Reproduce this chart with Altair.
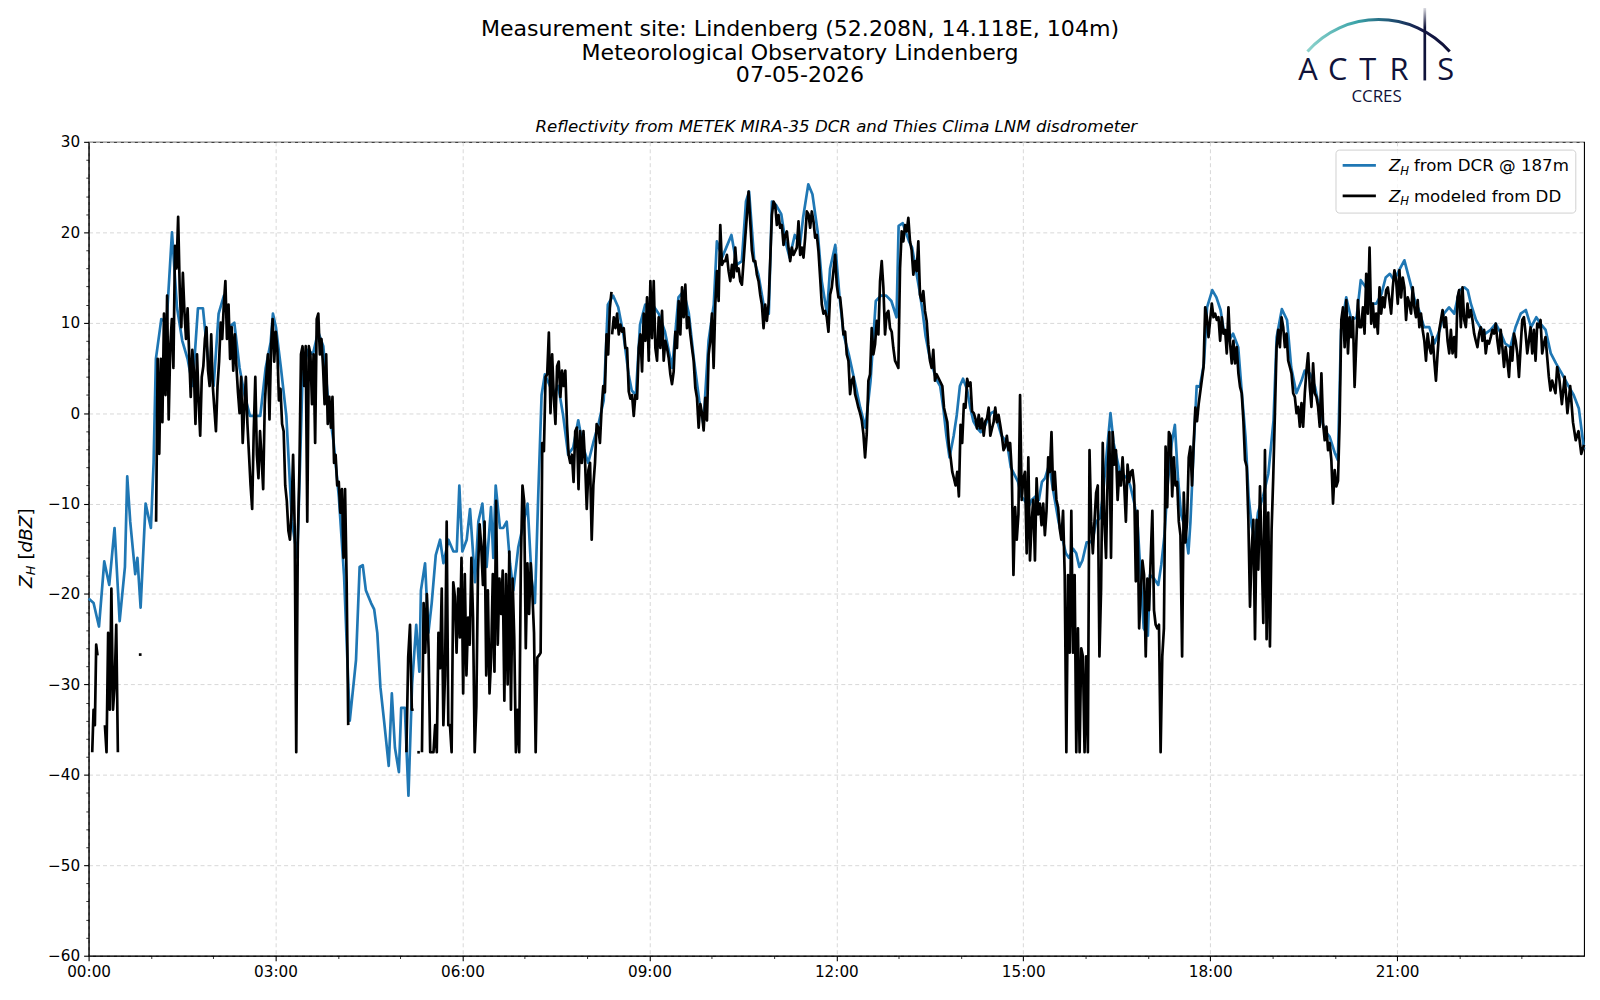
import altair as alt
import numpy as np
import pandas as pd

# ---------------- data (minutes since 00:00, reflectivity dBZ) ----------------
blue_t = [0, 4.8, 10, 15.1, 19.9, 25, 29.9, 35, 37.2, 40.1, 44.9, 47, 50.1, 54.9, 60, 62.6, 64.8, 70, 75.1, 80.3,
          85.1, 90.2, 95.3, 100.2, 105.3, 110.1, 115.2, 120.4, 125.2, 130.3, 135.1, 140.3, 145.4, 150.2, 155.4,
          160.2, 165.3, 170.5, 175.3, 177.5, 180.4, 185.2, 190.4, 195.8, 201, 206, 211, 216, 221, 226,
          231, 236, 241, 246, 251.5,
          256, 257.5, 261, 264, 267, 272, 275, 278, 281, 284.5, 289, 292, 295, 298.8, 301,
          304.5, 308, 311.5, 315.5, 318.5, 320, 324, 327.2, 330.4, 334.3, 338.5, 341.7, 346.5, 351.3, 354.5,
          357, 359.9, 364.1, 367.3, 372.1, 375.3, 379.2, 383.3, 387.5, 389.7, 392, 396.1, 399.3, 402.6, 405.8,
          409, 413.8, 418.6, 422.7, 426.6, 429.8, 433, 436.2, 439.4, 444.2, 447.4, 452.2, 457, 461.8, 466.6,
          471.5, 476.3, 481.1, 485.9,
          491, 496, 500, 505, 510, 515, 520, 523, 527, 531, 536, 543, 549, 555, 562, 568, 573, 578, 583, 588,
          592, 597, 602, 605, 610, 614, 619, 624, 629, 633, 636, 641, 645, 651, 655, 658, 662, 667, 671, 675,
          680, 685, 688, 693, 697, 702, 706, 711, 714, 719, 723, 727, 732, 739, 743, 748, 753, 758, 763, 768,
          773, 778,
          780, 784, 787, 790, 793, 797, 800, 803, 806, 810, 813, 816, 820, 823, 826, 829, 833, 836, 839, 842,
          846, 849, 852, 856, 859, 862, 865, 869, 872, 875, 879, 882, 885, 888, 892, 895, 898, 901, 905, 908,
          912, 915, 918, 921, 925, 928, 931, 934, 938, 941, 944, 948, 951, 954, 957, 961, 964, 967, 970, 974,
          977, 980, 984, 987, 990, 993, 997, 1000, 1003, 1007, 1010, 1013, 1016, 1020, 1022, 1026, 1030, 1033,
          1036, 1039, 1043, 1046, 1049, 1052, 1056, 1059, 1061, 1064, 1067,
          1070, 1074, 1077, 1082, 1086, 1090, 1093, 1098, 1102, 1107, 1110, 1114, 1117, 1120, 1123, 1126, 1131,
          1136, 1141, 1144, 1149, 1154, 1158, 1163, 1168, 1171, 1176, 1181, 1186, 1190, 1195, 1200, 1203, 1206,
          1211, 1216, 1221, 1225, 1230, 1235, 1240, 1245, 1249, 1253, 1257, 1262, 1267, 1272, 1277, 1281, 1286,
          1291, 1296, 1301, 1305, 1310, 1315, 1320, 1325, 1328, 1331, 1336, 1340, 1345, 1350, 1355, 1360, 1364,
          1369, 1374, 1379, 1384, 1389, 1394, 1398, 1403, 1408, 1413, 1418, 1425, 1430, 1435, 1440]

blue_v = [-20.5, -21, -23.6, -16.4, -19, -12.7, -23, -17, -7, -12, -17.8, -16, -21.5, -10, -12.7, -5.5, 6, 10.4, 10, 20,
          11.7, 8, 6, 3, 11.6, 11.6, 5.7, 3, 11, 13, 9.5, 10, 5, 2, -0.3,
          -0.3, -0.3, 5, 7.8, 11, 9.5, 5, -0.3, -12, -16, 4, 7, 6.5, 9, 7.4,
          1, -3.3, -9.3, -18, -34,
          -29, -27.3, -17, -16.8, -19.6, -21, -21.7, -24.3, -30.3, -34, -39, -31, -37, -39.7, -32.6,
          -32.6, -42.3, -30, -23.4, -28.6, -19.6, -16.6, -24.3, -21, -15.7, -14, -16.6, -14, -15.3, -15.3,
          -8, -15.3, -14, -10.6, -18.7, -12, -10, -17, -10.4, -16, -8, -12.7, -12.7, -12, -16.6,
          -19.6, -14.8, -12.3, -10, -18.3, -21, -9, 2, 4.3, 3, 2, 3, -0.3, -4.6, -3.8,
          -0.8, -3.8, -5.5, -3.3,
          -1.2, 1.4, 12, 13, 11.7, 8.7, 4.3, 2.5, 2, 9.8, 12, 12, 11, 9, 5, 12.8, 13.5, 11, 5.8, 1.4,
          -1.2, 8, 12, 19, 17.2, 18.3, 19.7, 16.4, 16.8, 23.4, 24.5, 16.8, 15.3, 11.3, 11, 23.4, 23, 22, 19, 17.2,
          19.7, 18.6, 21.6, 25.3, 24.2, 20.1, 14.6, 11, 16, 18.6, 13, 8.7, 6.5, 2.8, 0.6, -1.6, 3.6, 12.4, 13, 13,
          12.4, 10.6,
          20.7, 21, 20, 19, 18.3, 15.6, 13.6, 11.3, 8.5, 6.1, 5, 3.8, 3, 0.6, -2.5, -4.9, -2.5, -0.2, 3, 3.8,
          2.6, 0.6, -0.9, -1.7, -2.1, -1.7, -0.9, 0, 0.2, -0.9, -2.5, -2.9, -3.7, -6, -6.9, -7.6, -9.2, -9.6, -10.4, -9.6,
          -9.2, -9.6, -7.6, -7.2, -5.7, -8, -10, -12, -14, -15.5, -16, -15, -15.5, -17, -16.3, -14.3, -14.3, -14, -12, -11.6,
          -8.8, -4.9, 0, -3.3, -4.9, -6.5, -6.9, -7.2, -8, -10, -12, -17.9, -23.8, -24.6, -17.9, -18.3, -19, -16.7,
          -13.5, -8, -3.3, -1.3, -7.2, -11.2, -12.8, -15.5, -12, -4.1, 3,
          2.9, 5.5, 11.7, 13.6, 12.8, 11.4, 9.2, 8, 8.8, 7.3, 2.9, -2.6, -9.2, -12.5, -14, -11, -9.2,
          -6.7, -0.8, 8.4, 11.5, 10.3, 5.1, 2.2, 3.6, 4.7, 4.4, 2.9, 0, -1.9, -2.6, -4.4, -5.2, 9.2,
          12.8, 10.3, 10.6, 14.7, 13.9, 12.1, 12.1, 13.2, 15, 15.4, 14.7, 15.8, 16.9, 14.7, 12.5, 11.4, 9.5,
          9.5, 7.7, 9.2, 11, 11.7, 11, 13.6, 13.9, 13.6, 12.1, 10.3, 9.5, 8.8, 9.2, 9.9, 8.8, 7.7,
          7.3, 9.5, 11, 11.4, 9.5, 10.6, 9.9, 9.2, 6.6, 5.5, 4.5, 3, 2, 0.5, -4]

# black series: segments of regularly sampled values, [start minute, end minute]
black_seg_bounds = [(3.5, 8.6), (15.7, 28.2), (48.4, 51.0), (65.0, 250.0), (306.0, 313.0), (316.5, 319.0),
                    (321.0, 503.5), (504.1, 816.6), (822.1, 1068.9), (1073.6, 1414.1), (1416.0, 1440.0)]
black_seg_ids = [1, 2, 3, 4, 5, 6, 7, 8, 8, 8, 8]

black_v1 = [-37.5, -32.8, -34.5, -25.6, -26.8]
black_v2 = [-34.5, -37.5, -24.3, -32.8, -19.4, -32.8, -30, -23.4, -37.5]
black_v3 = [-26.7, -26.7]
black_v4 = [-12, 6, -4.5, 6, -1, 11, 2, 13, -0.7, 7.4, 10.4, 5, 18.5, 16, 21.7, 13.8, 9.5, 15.5, 11.2, 8.2,
            11.6, 6.5, 1.8, 7, 4.7, -1.2, 6.5, 1.4, -2.5, 4, 5.2, 8.2, 9.5, 4.7, 3, 8.7, 3, 0.5, -2, 3,
            5.7, 10, 8.2, 12, 14.6, 8.2, 12, 6, 9.5, 4.7, 8.7, 5.2, 2.3, 0, 4, -3.3, 0.5, 4, -1.2, -4.6,
            -8, -10.6, -2, 4, -4.6, -7.2, -2, -5, -8.4, 1, 4, 6.5, -0.7, 7.4, 10.4, 5.7, 9, 7, 1.4, 2.7,
            -1.2, -2, -8, -9.7, -13, -14, -11, -4.6, -12.7, -37.5, -14, -6.3, 6.5, 7.4, 3, 7.4, -12, 7.4, 6.5, 1,
            6.5, -3.3, 10.4, 11, 6.5, 8.2, 5.2, 1, 6.5, -1.2, 1.8, -1.6, 1.8, -5.5, -4.6, -8, -7.6, -11, -8.4, -16,
            -8.4, -18.7, -34.5]
black_v5 = [-37.5, -27, -23.4, -32.8, -32.8]
black_v6 = [-37.5, -37.5]
black_v7 = [-37.5, -21, -26.5, -20, -26, -37.5, -37.5, -37.5, -34.5, -37.5, -24.3, -28.2, -19.4, -34.5, -29, -12,
            -34.5, -34.5, -37.5, -18.7, -20.3, -26.5, -19.4, -24.8, -16, -31, -17.8, -29, -22.6, -25.6, -16, -22.6,
            -37.5, -32.4, -17.4, -12.3, -14.8, -19, -12, -29, -19.6, -31, -27, -17.8, -28.6, -9.7, -25.6, -18.3,
            -22.2, -17.4, -31.8, -17.8, -30, -15.3, -32.8, -18.3, -24.8, -37.5, -32.8, -37.5, -16.6, -8, -9.7, -26,
            -16.6, -22.2, -16.6, -20, -24.3, -37.5, -27, -26.8, -26.5, -3.3, -4.2, 4, 4.3, 8.9, 0, 6.5, 1.8, -1.2,
            5.2, 5.7, 1.8, 4.7, 3, 4.7, -1.2, -4.6, -5.5, -4.6, -7.6, -2, -1.6, -8.4, -2, -5.5, -2, -5.5, -10.6,
            -6.3, -5.5, -14, -8, -5.5, -1.2, -1.6, -3.3, 0.5, 3, 2.3, 8.7, 6.5, 11.6, 13.4]
black_v8 = [8.7, 10.6, 9.4, 11, 8.7, 9.8, 9, 9.4, 7.2, 7.2, 2.4, 1.6, 2, -0.3, 2, 1.6, 7.2, 8.7, 4.6, 11,
            8, 12.8, 5.8, 14.6, 8.3, 14.6, 7.2, 5.8, 10.6, 7.2, 11.3, 5.8, 8, 7.2, 6.1, 4.3, 3.2, 4.6, 9, 7.2,
            12.4, 8.7, 13.9, 10.6, 14.2, 9.4, 10.6, 8.7, 7.2, 5.8, 2.8, 1.7, -1.6, 1, 0, -1.9, 1.7, -0.8, 6.5, 8,
            11, 5, 12, 15.7, 12.4, 20.8, 16.4, 16.8, 16.8, 17.5, 15.7, 14.6, 16.4, 15, 18.3, 15.7, 16, 14.6, 14.2, 16.8,
            19.4, 21.9, 24.5, 21.2, 18, 16.8, 16.8, 15.3, 14.6, 13.1, 12, 9.4, 12, 10.2, 12, 16.8, 21.9, 23.4, 23, 20.8,
            21.9, 20.5, 20.8, 18.6, 19.7, 20.1, 18.3, 16.8, 18.3, 17.5, 17.9, 18.3, 21.2, 17.5, 18.3, 17.2, 19.4, 22.3,
            22, 20.5, 22.3, 21.2, 19.4, 19.7, 17.9, 15, 12, 11, 11.3, 10.6, 9, 13.1, 13.9, 15.7, 17.5, 14.2, 12.8, 12.8,
            11, 8.7, 9, 6.5, 5.8, 2.1, 3.6, 4, 2.1, 1.4, 0.6, 0, -0.8, -2.3, -4.9, -2.3, 3.6, 4.3, 9.4, 6.5,
            7.6, 10.2, 8.7, 14.6, 16.8, 13.9, 8.7, 11, 11.3, 9.4, 9, 7.2, 5.8, 5.4, 5, 16, 20.1, 19, 20.8, 20.1,
            21.6, 19, 18, 15.3, 16.8, 15.7, 19, 13.1, 12.4, 13.5, 11.3, 10.2, 7.6, 5.8, 5, 7, 3.6, 4.3]
black_v9 = [3, 0.6, -0.2, -1, -3.7, -4.9, -6.5, -7.2, -8, -6.5, -9.2, -1.3, -3.3, 1, 0.6, 3.8, 3, 3.4, 0.2, 0,
            -0.6, -1.7, -0.2, -1.7, -0.6, -2.5, -0.9, -0.6, 0.6, -2.5, -1.7, -1, 0.6, -1, -0.2, -1.3, -2.5, -4.1, -3.7,
            -2.5, -4.1, -3.3, -6.5, -17.9, -10.4, -14, -11.2, 2, -9.6, -7.2, -6.5, -15.5, -4.9, -16.3, -12, -9.6, -16.3,
            -7.2, -11.2, -10, -12.4, -10, -13.5, -10.8, -4.9, -6.5, -2.1, -8.5, -6.5, -9.6, -10.4, -12.8, -14, -10.8,
            -17.9, -37.5, -17.9, -26.5, -10.8, -26.5, -17.9, -37.5, -23.8, -37.5, -26, -26.9, -37.5, -26.9, -37.5, -4.1,
            -12, -15.5, -12, -8.8, -8, -26.9, -19.4, -3.3, -12, -16, -6.5, -2.1, -16, -2.1, -5.7, -4.1, -9.6, -6.5, -8,
            -4.9, -8, -12, -5.7, -7.6, -6.5, -6.3, -8, -18.6, -10.8, -23.8, -19.8, -16.3, -17.9, -26.9, -18.3, -21.8,
            -16, -10.8, -21.8, -23.4, -23.8, -23.4, -37.5, -26.9, -23.8, -3.7, -10.4, -2.1, -2.5, -9.2, -4.9, -8, -7.6,
            -12, -13.5, -26.9, -8.8, -14.3, -12, -4.9, -3.7, -8, -3.3, 0.6, -0.9, 1]
black_v10 = [5.1, 11.7, 10.6, 8.4, 10.3, 12.1, 10.6, 11, 10.3, 10.6, 8, 10.6, 8.8, 9.2, 6.6, 11.7, 7.7, 5.5, 8, 5.5,
             7.3, 4.4, 2.9, 2.2, -0.8, -5.2, -5.9, -11.8, -21.4, -15.1, -11.8, -25, -11.8, -17.3, -8.1, -15.1, -23.2,
             -4.1, -25, -11, -25.8, -12.9, -7, 0, 7.3, 9.2, 7.3, 10.6, 9.5, 7.3, 8.8, 5.8, 5.1, 4.4, 2.2, 1.8, 0, 0.7,
             -1.5, 1.1, -1.5, 2.2, 4.7, 6.6, 2.9, 0.7, 5.5, 2.2, 1.8, 0.7, -1.5, 4.4, -1.1, -3, -1.5, -4.1, -3.3, -5.2,
             -10, -6.3, -8.1, -7.5, -0.8, 10.3, 11.7, 7.3, 12.5, 6.6, 10.6, 8.4, 10.6, 2.9, 7.7, 12.5, 9.5, 9.5, 11.7,
             8.8, 15.4, 11, 18.3, 9.9, 12.1, 9.5, 11, 8.8, 13.9, 11, 12.8, 11.7, 13.6, 13.9, 12.5, 11, 13.9, 15.8, 14.7,
             12.1, 15.8, 12.8, 15, 13.9, 10.3, 12.8, 12.1, 11, 13.9, 11.7, 10.6, 12.5, 9.5, 11, 9.2, 8, 5.8, 8.8, 7.3,
             6.6, 8.4, 5.8, 3.6, 6.6, 9.2, 10.3, 11.4, 9.5, 10.6, 8, 6.6, 9.2, 6.6, 8.4, 6.2, 12.8, 13.6, 9.5, 13.9,
             10.3, 9.5, 12.1, 10.6, 11.4, 10.3, 8.8, 8, 7.3, 8.8, 9.5, 8, 9.2, 6.6, 8, 7.7, 8.4, 9.2, 8.8, 9.9, 8, 6.6,
             9.2, 7.3, 5.1, 7.3, 5.8, 4, 7.3, 5.8, 8.8, 8, 6.6, 4, 7.3, 10.3, 10.6, 8.8, 6.6, 8, 9.5, 6.6, 9.2, 5.8,
             9.9, 9.5, 10.3, 6.6, 7.7, 8.4, 6.2, 4, 2.5, 3.6, 2.9, 2.2, 5.1]
black_v11 = [4, 1, 4, 0, 3, -1, -3, -2, -4.5, -3.5]

black_segments = [black_v1, black_v2, black_v3, black_v4, black_v5, black_v6, black_v7,
                  black_v8, black_v9, black_v10, black_v11]

major_x = [0, 180, 360, 540, 720, 900, 1080, 1260]
minor_x = [60, 120, 240, 300, 420, 480, 600, 660, 780, 840, 960, 1020, 1140, 1200, 1320, 1380]
major_y = [-60, -50, -40, -30, -20, -10, 0, 10, 20, 30]
minor_y = [v for v in range(-58, 30, 2) if v % 10 != 0]

title_lines = ["Measurement site: Lindenberg (52.208N, 14.118E, 104m)",
               "Meteorological Observatory Lindenberg", "07-05-2026"]
subtitle = "Reflectivity from METEK MIRA-35 DCR and Thies Clima LNM disdrometer"
legend_labels = ["from DCR @ 187m", "modeled from DD"]

# ---------------- frames ----------------
blue_df = pd.DataFrame({"minute": blue_t, "value": blue_v})
rows = []
for (t0, t1), sid, vals in zip(black_seg_bounds, black_seg_ids, black_segments):
    ts = np.linspace(t0, t1, len(vals))
    for t, v in zip(ts, vals):
        rows.append({"minute": float(t), "value": v, "seg": sid})
black_df = pd.DataFrame(rows)
one = pd.DataFrame({"k": [0]})

W, H = 1503, 818
FONT = "DejaVu Sans"
NAVY = "#10133a"
LW = 2.7

xscale = alt.Scale(domain=[0, 1440], nice=False, zero=False)
yscale = alt.Scale(domain=[-60, 30], nice=False, zero=False)

x_axis = alt.Axis(values=major_x, title="", grid=True, labelFlush=False, labelOverlap=False,
                  labelExpr="(datum.value < 600 ? '0' : '') + floor(datum.value / 60) + ':00'",
                  tickSize=5, labelPadding=4, orient="bottom")
y_axis = alt.Axis(values=major_y, title="", grid=True, labelFlush=False, labelOverlap=False,
                  labelExpr="datum.value < 0 ? '\u2212' + abs(datum.value) : '' + datum.value",
                  tickSize=5, labelPadding=4, orient="left")

blue_line = alt.Chart(blue_df).mark_line(color="#1f77b4", strokeWidth=LW, strokeJoin="round").encode(
    x=alt.X("minute:Q", scale=xscale, axis=x_axis),
    y=alt.Y("value:Q", scale=yscale, axis=y_axis),
)
black_line = alt.Chart(black_df).mark_line(color="black", strokeWidth=LW, strokeJoin="round").encode(
    x=alt.X("minute:Q", scale=xscale, axis=None),
    y=alt.Y("value:Q", scale=yscale, axis=None),
    detail="seg:N",
)
minor_layer = alt.Chart(blue_df).mark_line(opacity=0).encode(
    x=alt.X("minute:Q", scale=xscale,
            axis=alt.Axis(values=minor_x, labels=False, grid=False, domain=False, title="",
                          tickSize=2.8, tickWidth=0.8, orient="bottom")),
    y=alt.Y("value:Q", scale=yscale,
            axis=alt.Axis(values=minor_y, labels=False, grid=False, domain=False, title="",
                          tickSize=2.8, tickWidth=0.8, orient="left")),
)


def txt(text, x, y, size, align="center", baseline="alphabetic", style="normal", angle=0,
        color="black", font=FONT):
    return alt.Chart(one).mark_text(text=text, align=align, baseline=baseline, fontSize=size,
                                    fontStyle=style, angle=angle, color=color, font=font).encode(
        x=alt.value(x), y=alt.value(y))


deco = []
# header
for line, yy in zip(title_lines, [-105.9, -82.7, -60.0]):
    deco.append(txt(line, 715, yy, 22.2))
deco.append(txt(subtitle, W / 2, -10, 16.7, style="italic"))

# y-axis label Z_H [dBZ]
deco.append(txt("Z", -57.3, 448.3, 18.5, align="left", style="italic", angle=270))
deco.append(txt("H", -53.8, 435.6, 13, align="left", style="italic", angle=270))
deco.append(txt("[", -57.3, 419.9, 18.5, align="left", angle=270))
deco.append(txt("dBZ", -57.3, 412.7, 18.5, align="left", style="italic", angle=270))
deco.append(txt("]", -57.3, 375.6, 18.5, align="left", angle=270))

# legend (anchored to the upper right corner of the plot)
LX0 = W - 249.3
deco.append(alt.Chart(one).mark_rect(fill="white", fillOpacity=0.8, stroke="#d0d0d0", strokeWidth=1,
                                     cornerRadius=3.5).encode(
    x=alt.value(LX0), x2=alt.value(W - 8.3), y=alt.value(8.3), y2=alt.value(71.6)))
deco.append(alt.Chart(one).mark_rule(color="#1f77b4", strokeWidth=LW).encode(
    x=alt.value(LX0 + 6.7), x2=alt.value(LX0 + 40.1), y=alt.value(23.6)))
deco.append(alt.Chart(one).mark_rule(color="black", strokeWidth=LW).encode(
    x=alt.value(LX0 + 6.7), x2=alt.value(LX0 + 40.1), y=alt.value(54.3)))
for lbl, yy in zip(legend_labels, [29.8, 60.5]):
    deco.append(txt("Z", LX0 + 53.3, yy, 16.7, align="left", style="italic"))
    deco.append(txt("H", LX0 + 64.7, yy + 3.4, 11.7, align="left", style="italic"))
    deco.append(txt(lbl, LX0 + 78.3, yy, 16.7, align="left"))

# ACTRIS logo
arc_grad = alt.Gradient(gradient="linear", x1=0, x2=1, y1=0, y2=0,
                        stops=[alt.GradientStop(offset=0, color="#8fd4cd"),
                               alt.GradientStop(offset=0.35, color="#3aa3a8"),
                               alt.GradientStop(offset=0.6, color="#1f4f72"),
                               alt.GradientStop(offset=0.8, color="#151a48"),
                               alt.GradientStop(offset=1, color="#0e1036")])
deco.append(alt.Chart(one).mark_arc(outerRadius=96.8, innerRadius=93.8, theta=5.435, theta2=7.131,
                                    fill=arc_grad).encode(x=alt.value(1296.5), y=alt.value(-27.7)))
bar_grad = alt.Gradient(gradient="linear", x1=0, x2=0, y1=0, y2=1,
                        stops=[alt.GradientStop(offset=0, color="#ffffff"),
                               alt.GradientStop(offset=0.3, color=NAVY),
                               alt.GradientStop(offset=1, color=NAVY)])
deco.append(alt.Chart(one).mark_rect(fill=bar_grad).encode(
    x=alt.value(1341.6), x2=alt.value(1344.3), y=alt.value(-138), y2=alt.value(-61.7)))
for letter, xx in zip(["A", "C", "T", "R", "S"], [1225.5, 1255.5, 1285.5, 1317, 1364]):
    deco.append(txt(letter, xx, -62.2, 31, color=NAVY, font="Open Sans"))
deco.append(txt("CCRES", 1294.5, -39.7, 17, color=NAVY, font="Open Sans"))

chart = alt.layer(blue_line, black_line, minor_layer, *deco).resolve_axis(
    x="independent", y="independent"
).properties(
    width=W, height=H,
    autosize=alt.AutoSizeParams(type="none"),
    padding={"left": 81, "top": 132, "right": 8, "bottom": 42},
).configure_view(
    stroke="black", strokeWidth=1.1
).configure_axis(
    labelFont=FONT, labelFontSize=15.3, labelColor="black",
    tickColor="black", tickWidth=1.1, domainColor="black", domainWidth=1.1,
    gridColor="#d3d3d3", gridDash=[4, 3], gridWidth=0.9,
)

chart.save("out.html", embed_options={"renderer": "svg", "actions": False})
